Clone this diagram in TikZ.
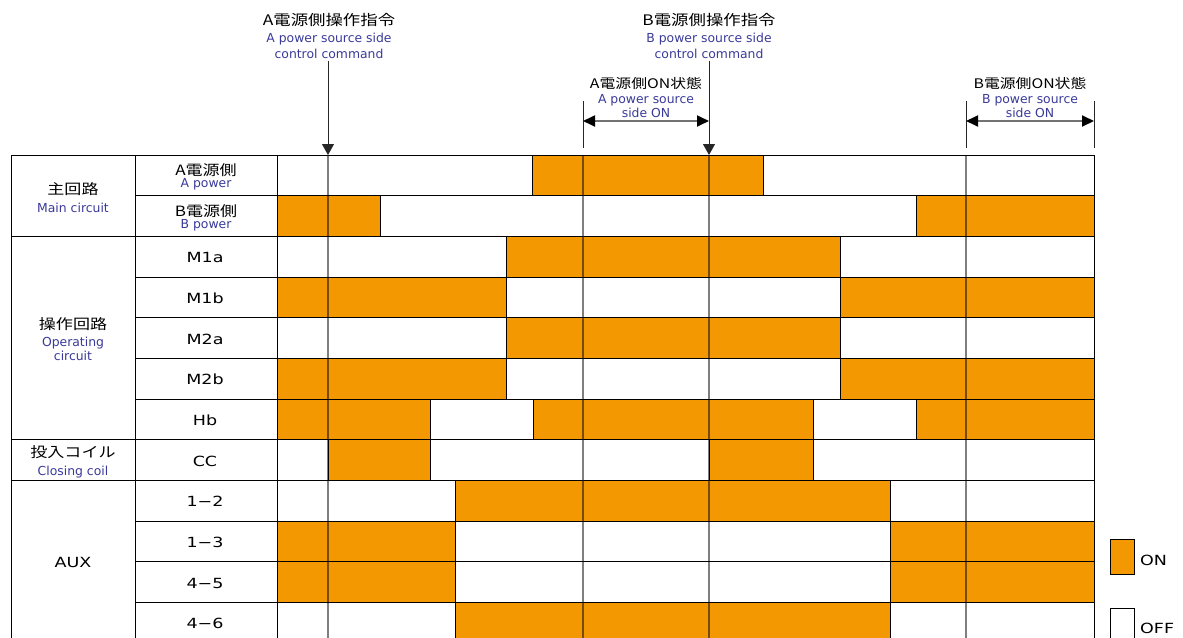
\documentclass[tikz,border=0pt]{standalone}
\usepackage{fontspec}
\setmainfont{Noto Sans CJK JP}[FakeStretch=1.2]
\newfontfamily\enfont{DejaVu Sans}
\newfontfamily\latfont{DejaVu Sans}[FakeStretch=1.25]
\usepackage{xcolor}
\usetikzlibrary{arrows.meta, positioning}
\definecolor{onorange}{HTML}{F39800}
\definecolor{enblue}{HTML}{3A3A9A}
\newcommand{\entext}[1]{{\enfont\fontsize{12.4}{15}\selectfont\color{enblue}#1}}
\newcommand{\rowh}{40.67}

\begin{document}
\begin{tikzpicture}[x=1pt,y=-1pt,every node/.style={inner sep=0pt},
    lbl/.style={align=center,anchor=base,font=\fontsize{14.2}{15}\selectfont},
    latlbl/.style={lbl,font=\latfont\fontsize{14}{15}\selectfont},
    cell/.style={draw=black,line width=1pt,fill=white},
    oncell/.style={cell,fill=onorange},
    marker/.style={draw=black,draw opacity=0.5,line width=1.5pt},
    tick/.style={draw=black!85,line width=0.9pt},
    cmd/.style={-{Triangle[length=11pt,width=12pt]},draw=black!85,line width=0.9pt},
    span/.style={{Triangle[length=12pt,width=11pt,color=black]}-{Triangle[length=12pt,width=11pt,color=black]},draw=black!55,line width=1.8pt}]
    \useasboundingbox (0,0) rectangle (1183,637);

    % time marks on the top edge of the chart
    \coordinate (tS) at (277,155);
    \coordinate (tA) at (328,155);
    \coordinate (tAon) at (583,155);
    \coordinate (tB) at (709,155);
    \coordinate (tBon) at (966,155);
    \coordinate (tE) at (1094,155);
    \coordinate (bot) at (0,643);

    % rows
    \foreach \k in {0,...,11} {
        \draw[cell] (277,{155+\k*\rowh}) rectangle (1094,{155+(\k+1)*\rowh});
        \draw[cell] (135,{155+\k*\rowh}) rectangle (277,{155+(\k+1)*\rowh});
    }
    \foreach \a/\b in {0/2,2/7,7/8,8/12}
        \draw[cell] (11.5,{155+\a*\rowh}) rectangle (135,{155+\b*\rowh});

    % ON states
    \foreach \k/\a/\b in {0/532/763, 1/277/380, 1/916/1094, 2/506/840, 3/277/506, 3/840/1094,
        4/506/840, 5/277/506, 5/840/1094, 6/277/430, 6/533/813, 6/916/1094, 7/328/430, 7/709/813,
        8/455/890, 9/277/455, 9/890/1094, 10/277/455, 10/890/1094, 11/455/890}
        \draw[oncell] (\a,{155+\k*\rowh}) rectangle (\b,{155+(\k+1)*\rowh});

    \foreach \t in {tA,tAon,tB,tBon}
        \draw[marker] (\t) -- (\t |- bot);

    % labels (base = last line)
    \node[lbl] (gMain) at (73,212.3) {主回路\\[2.5pt]\entext{Main circuit}};
    \node[lbl] (gOp) at (73,360) {操作回路\\[2.7pt]\entext{Operating}\\[-1.7pt]\entext{circuit}};
    \node[lbl] (gCoil) at (73,475) {投入コイル\\[2.5pt]\entext{Closing coil}};
    \node[latlbl] (gAux) at (73,567) {AUX};

    \node[lbl] (rowA) at (206,187.7) {A電源側\\[-3pt]\entext{A power}};
    \node[lbl] (rowB) at (206,228.4) {B電源側\\[-3pt]\entext{B power}};
    \foreach \name [count=\k from 2] in {M1a,M1b,M2a,M2b,Hb,CC,1−2,1−3,4−5,4−6}
        \node[latlbl] (row\k) at (205,{155+(\k+0.5)*\rowh+6}) {\name};

    % commands
    \node[lbl,font=\fontsize{14.5}{15.6}\selectfont] (cmdA) at (329,58.3)
        {A電源側操作指令\\[1.4pt]\entext{A power source side}\\\entext{control command}};
    \node[lbl,font=\fontsize{14.5}{15.6}\selectfont] (cmdB) at (709,58.3)
        {B電源側操作指令\\[1.4pt]\entext{B power source side}\\\entext{control command}};
    \draw[cmd] ([yshift=-2pt]cmdA.south -| tA) -- (tA);
    \draw[cmd] ([yshift=-2pt]cmdB.south -| tB) -- (tB);

    % ON periods
    \node[lbl,font=\fontsize{13.2}{15}\selectfont] (onA) at (646,117.3)
        {A電源側ON状態\\\entext{A power source}\\[-1pt]\entext{side ON}};
    \node[lbl,font=\fontsize{13.2}{15}\selectfont] (onB) at (1030,117.3)
        {B電源側ON状態\\\entext{B power source}\\[-1pt]\entext{side ON}};
    \coordinate (aonL) at (583,121);
    \coordinate (aonR) at (709,121);
    \coordinate (bonL) at (966,121);
    \coordinate (bonR) at (1094,121);
    \foreach \t in {tAon,tBon,tE}
        \draw[tick] ([yshift=7pt]\t) -- ([yshift=54pt]\t);
    \draw[span] (aonL) -- (aonR);
    \draw[span] (bonL) -- (bonR);

    % legend
    \draw[oncell] (1110,539) rectangle (1134,574);
    \draw[cell] (1110,608) rectangle (1134,643);
    \node[latlbl,anchor=base west] (lgOn) at (1140,565) {ON};
    \node[latlbl,anchor=base west] (lgOff) at (1140,633) {OFF};
\end{tikzpicture}
\end{document}
